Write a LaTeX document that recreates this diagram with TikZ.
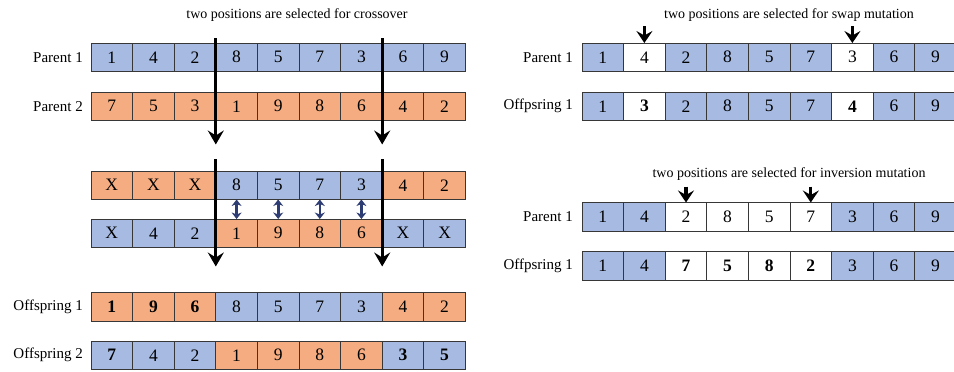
\documentclass[tikz,border=0pt]{standalone}
\usepackage{fontspec}
\setmainfont{Liberation Serif}
\usetikzlibrary{arrows.meta, positioning, calc}
\definecolor{genblue}{RGB}{166,186,226}
\definecolor{genorange}{RGB}{244,172,128}
\definecolor{genwhite}{RGB}{255,255,255}
\definecolor{cellframe}{RGB}{55,55,55}
\definecolor{swapnavy}{RGB}{45,60,115}
\tikzset{
  gene/.style={rectangle, draw=cellframe, line width=0.8pt,
    minimum width=41.6pt, minimum height=28.5pt, inner sep=0pt,
    outer sep=0pt, anchor=north west, font=\fontsize{17.5}{17.5}\selectfont},
  rowlabel/.style={font=\fontsize{15}{15}\selectfont, inner sep=0pt},
  caption/.style={font=\fontsize{14}{14}\selectfont, inner sep=0pt},
  cutarrow/.style={-{Stealth[length=14pt,width=16pt,inset=5pt]}, line width=3pt, color=black},
  pickarrow/.style={-{Stealth[length=12pt,width=16pt,inset=4.5pt]}, line width=3.2pt, color=black},
  xchange/.style={{Stealth[length=6.5pt,width=10pt,inset=2pt]}-{Stealth[length=6.5pt,width=10pt,inset=2pt]}, line width=2.6pt, color=swapnavy}
}

\begin{document}
\begin{tikzpicture}[x=1pt, y=-1pt]
  \useasboundingbox (0,0) rectangle (954,372);

  % ---------- crossover ----------
  \node[caption] (capcross) at (297,15) {two positions are selected for crossover};

  % Parents
  \foreach \v/\c [count=\i] in {1/genblue,4/genblue,2/genblue,8/genblue,5/genblue,7/genblue,3/genblue,6/genblue,9/genblue}
    \node[gene, fill=\c] (pa-\i) at ({91+41.6*(\i-1)},43) {\v};
  \foreach \v/\c [count=\i] in {7/genorange,5/genorange,3/genorange,1/genorange,9/genorange,8/genorange,6/genorange,4/genorange,2/genorange}
    \node[gene, fill=\c] (pb-\i) at ({91+41.6*(\i-1)},92) {\v};
  \node[rowlabel, left=8pt of pa-1] (labpa) {Parent 1};
  \node[rowlabel, left=8pt of pb-1] (labpb) {Parent 2};

  % Middle segments exchanged
  \foreach \v/\c [count=\i] in {X/genorange,X/genorange,X/genorange,8/genblue,5/genblue,7/genblue,3/genblue,4/genorange,2/genorange}
    \node[gene, fill=\c] (ca-\i) at ({91+41.6*(\i-1)},171) {\v};
  \foreach \v/\c [count=\i] in {X/genblue,4/genblue,2/genblue,1/genorange,9/genorange,8/genorange,6/genorange,X/genblue,X/genblue}
    \node[gene, fill=\c] (cb-\i) at ({91+41.6*(\i-1)},219) {\v};
  \foreach \i in {4,...,7}
    \draw[xchange] (ca-\i) -- (cb-\i);

  % Offspring
  \foreach \v/\c [count=\i] in {{\bfseries 1}/genorange,{\bfseries 9}/genorange,{\bfseries 6}/genorange,8/genblue,5/genblue,7/genblue,3/genblue,4/genorange,2/genorange}
    \node[gene, fill=\c] (oa-\i) at ({91+41.6*(\i-1)},292.5) {\v};
  \foreach \v/\c [count=\i] in {{\bfseries 7}/genblue,4/genblue,2/genblue,1/genorange,9/genorange,8/genorange,6/genorange,{\bfseries 3}/genblue,{\bfseries 5}/genblue}
    \node[gene, fill=\c] (ob-\i) at ({91+41.6*(\i-1)},341) {\v};
  \node[rowlabel, left=8pt of oa-1] (laboa) {Offspring 1};
  \node[rowlabel, left=8pt of ob-1] (labob) {Offspring 2};

  % Cut points
  \foreach \k in {3,7} {
    \coordinate (cut\k a) at ($(pa-\k.north east)+(0,-5)$);
    \coordinate (cut\k b) at ($(pb-\k.south east)+(0,24)$);
    \coordinate (cut\k c) at ($(ca-\k.north east)+(0,-12)$);
    \coordinate (cut\k d) at ($(cb-\k.south east)+(0,19)$);
    \draw[cutarrow] (cut\k a) -- (cut\k b);
    \draw[cutarrow] (cut\k c) -- (cut\k d);
  }

  % ---------- swap mutation ----------
  \node[caption] (capswap) at (789,15) {two positions are selected for swap mutation};
  \foreach \v/\c [count=\i] in {1/genblue,4/genwhite,2/genblue,8/genblue,5/genblue,7/genblue,3/genwhite,6/genblue,9/genblue}
    \node[gene, fill=\c] (sp-\i) at ({582+41.6*(\i-1)},43) {\v};
  \foreach \v/\c [count=\i] in {1/genblue,{\bfseries 3}/genwhite,2/genblue,8/genblue,5/genblue,7/genblue,{\bfseries 4}/genwhite,6/genblue,9/genblue}
    \node[gene, fill=\c] (so-\i) at ({582+41.6*(\i-1)},92) {\v};
  \node[rowlabel, left=9pt of sp-1] (labsp) {Parent 1};
  \node[rowlabel, left=9pt of so-1] (labso) {Offpsring 1};
  \foreach \k in {2,7} {
    \coordinate (swap\k) at ($(sp-\k.north)+(0,-17)$);
    \draw[pickarrow] (swap\k) -- (sp-\k);
  }

  % ---------- inversion mutation ----------
  \node[caption] (capinv) at (789,174) {two positions are selected for inversion mutation};
  \foreach \v/\c [count=\i] in {1/genblue,4/genblue,2/genwhite,8/genwhite,5/genwhite,7/genwhite,3/genblue,6/genblue,9/genblue}
    \node[gene, fill=\c] (ip-\i) at ({582+41.6*(\i-1)},202.5) {\v};
  \foreach \v/\c [count=\i] in {1/genblue,4/genblue,{\bfseries 7}/genwhite,{\bfseries 5}/genwhite,{\bfseries 8}/genwhite,{\bfseries 2}/genwhite,3/genblue,6/genblue,9/genblue}
    \node[gene, fill=\c] (io-\i) at ({582+41.6*(\i-1)},251.5) {\v};
  \node[rowlabel, left=9pt of ip-1] (labip) {Parent 1};
  \node[rowlabel, left=9pt of io-1] (labio) {Offpsring 1};
  \foreach \k in {3,6} {
    \coordinate (inv\k) at ($(ip-\k.north)+(0,-16)$);
    \draw[pickarrow] (inv\k) -- (ip-\k);
  }
\end{tikzpicture}
\end{document}
